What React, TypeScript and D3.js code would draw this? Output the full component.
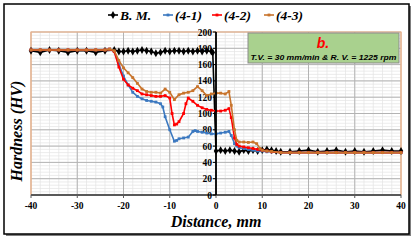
import * as d3 from "d3";

// distance (mm) and hardness (HV) for each traverse
const bmDist = [-40, -38, -36, -34, -32, -30, -28, -26, -24, -22, -21, -20, -19, -18, -17, -16, -15, -14, -13, -12, -11, -10, -9, -8, -7, -6, -5, -4, -3, -2, -1, -0.7, 0, 1, 2, 3, 4, 5, 6, 7, 8, 9, 10, 11, 12, 13, 14, 16, 18, 20, 22, 24, 26, 28, 30, 32, 34, 36, 38, 40];
const bmHv = [177, 175, 178, 177, 175, 177, 177, 175, 177, 178, 176, 176, 177, 176, 177, 178, 177, 176, 174, 175, 177, 176, 177, 177, 176, 177, 176, 177, 176, 177, 176, 175, 54, 55, 54, 55, 54, 53, 55, 54, 55, 54, 55, 56, 55, 54, 53, 53, 54, 55, 53, 54, 55, 53, 54, 53, 54, 55, 54, 54];

const s41Dist = [-40, -38, -36, -34, -32, -30, -28, -26, -24, -23, -22, -21, -20, -19, -18, -17, -16, -15, -14, -13, -12, -11.5, -11, -10, -9, -8.5, -8, -7, -6, -5, -4.5, -4, -3, -2, -1, 0, 1, 2, 2.8, 3.3, 4, 4.5, 5, 6, 7, 8, 9, 10, 11, 12, 14, 16, 18, 20, 22, 24, 26, 28, 30, 32, 34, 36, 38, 40];
const s41Hv = [178, 178, 178, 178, 178, 178, 178, 178, 178, 179, 176, 160, 146, 135, 126, 121, 118, 116, 115, 114, 112, 108, 96, 80, 66, 67, 69, 70, 71, 78, 79, 78, 77, 76, 75, 75, 76, 77, 78, 73, 63, 60, 58, 57, 56, 55, 54, 54, 53, 53, 52, 52, 52, 52, 52, 52, 52, 52, 52, 52, 52, 52, 52, 52];

const s42Dist = [-40, -38, -36, -34, -32, -30, -28, -26, -24, -23, -22, -21, -20, -19, -18, -17, -16, -15, -14, -13, -12, -11, -10, -9.5, -9, -8.5, -8, -7, -6.5, -6, -5, -4, -3, -2, -1, 0, 1, 2, 2.8, 3.3, 4, 4.5, 5, 6, 7, 8, 9, 10, 11, 12, 14, 16, 18, 20, 22, 24, 26, 28, 30, 32, 34, 36, 38, 40];
const s42Hv = [178, 178, 178, 178, 178, 178, 178, 178, 178, 179, 176, 157, 142, 135, 131, 128, 124, 123, 122, 121, 121, 122, 119, 100, 86, 87, 90, 100, 112, 119, 115, 110, 107, 105, 104, 103, 103, 104, 106, 95, 70, 62, 60, 59, 58, 57, 56, 55, 54, 53, 52, 52, 52, 52, 52, 52, 52, 52, 52, 52, 52, 52, 52, 52];

const s43Dist = [-40, -38, -36, -34, -32, -30, -28, -26, -24, -23, -22, -21, -20, -19, -18, -17, -16, -15, -14, -13, -12, -11, -10, -9, -8, -7, -6, -5, -4, -3, -2, -1, 0, 1, 2, 2.8, 3.3, 4, 4.5, 5, 6, 7, 8, 8.8, 9.5, 10, 11, 12, 14, 16, 18, 20, 22, 24, 26, 28, 30, 32, 34, 36, 38, 40];
const s43Hv = [178, 178, 178, 178, 178, 178, 178, 178, 178, 179, 177, 165, 156, 150, 144, 137, 130, 127, 126, 126, 125, 130, 126, 117, 123, 125, 126, 128, 133, 128, 122, 124, 125, 125, 124, 127, 110, 80, 67, 65, 65, 64.5, 65, 63, 57, 55, 54, 53.5, 52, 52, 52, 52, 52, 52, 52, 52, 52, 52, 52, 52, 52, 52];

const seriesNames = ["B. M.", "(4-1)", "(4-2)", "(4-3)"];
const seriesColors = ["#000000", "#3b78c0", "#ff0000", "#c8742c"];

const xTickLabels = [-40, -30, -20, -10, 0, 10, 20, 30, 40];
const yTickLabels = [0, 20, 40, 60, 80, 100, 120, 140, 160, 180, 200];

const series = [
  { name: seriesNames[0], dist: bmDist, hv: bmHv, color: seriesColors[0], diamond: true },
  { name: seriesNames[1], dist: s41Dist, hv: s41Hv, color: seriesColors[1], diamond: false },
  { name: seriesNames[2], dist: s42Dist, hv: s42Hv, color: seriesColors[2], diamond: false },
  { name: seriesNames[3], dist: s43Dist, hv: s43Hv, color: seriesColors[3], diamond: false },
];

const serif = "'Liberation Serif', 'Times New Roman', serif";
const sans = "'Liberation Sans', Arial, sans-serif";

export default function App() {
  const width = 415;
  const height = 242;

  const x = d3.scaleLinear().domain([-40, 40]).range([31, 401]);
  const y = d3.scaleLinear().domain([0, 200]).range([195, 32]);

  const line = d3
    .line<[number, number]>()
    .x((d) => x(d[0]))
    .y((d) => y(d[1]));

  const diamond = d3.symbol().type(d3.symbolDiamond).size(18)() || "";

  const minorX = d3.range(-40, 41, 2);
  const minorY = d3.range(0, 201, 4);

  // legend positions (line start)
  const legendX = [108, 163, 212, 264];

  return (
    <div style={{ position: "absolute", left: 0, top: 0 }}>
      <svg width={width} height={height} style={{ display: "block", background: "#fff" }}>
        {/* frame with a little shadow */}
        <rect x={6} y={6} width={405} height={230} fill="#7f7f7f" />
        <rect x={4} y={4} width={405} height={230} fill="#fff" stroke="#000" strokeWidth={1.5} />

        {/* minor grid */}
        {minorX.map((v) => (
          <line key={"mx" + v} x1={x(v)} x2={x(v)} y1={y(0)} y2={y(200)} stroke="#e4e4e4" strokeWidth={0.7} />
        ))}
        {minorY.map((v) => (
          <line key={"my" + v} x1={x(-40)} x2={x(40)} y1={y(v)} y2={y(v)} stroke="#e4e4e4" strokeWidth={0.7} />
        ))}
        {/* major grid */}
        {xTickLabels.map((v) => (
          <line key={"gx" + v} x1={x(v)} x2={x(v)} y1={y(0)} y2={y(200)} stroke="#b3b3b3" strokeWidth={1} />
        ))}
        {yTickLabels.map((v) => (
          <line key={"gy" + v} x1={x(-40)} x2={x(40)} y1={y(v)} y2={y(v)} stroke="#b3b3b3" strokeWidth={1} />
        ))}

        {/* plot area border */}
        <path
          d={`M${x(-40)},${y(0)}V${y(200)}H${x(40)}V${y(0)}`}
          fill="none"
          stroke="#f4b183"
          strokeWidth={1.2}
        />

        {/* annotation box */}
        <rect x={248} y={33} width={151} height={30} fill="#a9d18e" stroke="#8c8c8c" strokeWidth={1} />
        <text x={323} y={48} textAnchor="middle" fill="#ff0000" fontFamily={sans} fontWeight="bold" fontStyle="italic" fontSize={14}>
          b.
        </text>
        <text x={323.5} y={60} textAnchor="middle" fill="#000" fontFamily={sans} fontWeight="bold" fontStyle="italic" fontSize={8} textLength={146} lengthAdjust="spacingAndGlyphs">
          T.V. = 30 mm/min &amp; R. V. = 1225 rpm
        </text>

        {/* x axis */}
        <line x1={x(-40)} x2={x(40)} y1={y(0)} y2={y(0)} stroke="#595959" strokeWidth={2} />
        {xTickLabels.map((v) => (
          <g key={"xt" + v}>
            <line x1={x(v)} x2={x(v)} y1={y(0)} y2={y(0) + 3} stroke="#595959" strokeWidth={1} />
            <text x={x(v)} y={y(0) + 14} textAnchor="middle" fontFamily={serif} fontWeight="bold" fontSize={9.5} fill="#000">
              {v}
            </text>
          </g>
        ))}

        {/* y axis at x = 0 */}
        {yTickLabels.map((v) => (
          <g key={"yt" + v}>
            <line x1={x(0) - 3} x2={x(0)} y1={y(v)} y2={y(v)} stroke="#000" strokeWidth={1} />
            <text x={x(0) - 4} y={y(v) + 3.5} textAnchor="end" fontFamily={serif} fontWeight="bold" fontSize={9.5} fill="#000">
              {v}
            </text>
          </g>
        ))}

        {/* series */}
        {series.map((s) => {
          const pts = s.dist.map((d, i) => [d, s.hv[i]] as [number, number]);
          return (
            <g key={s.name}>
              <path d={line(pts) || ""} fill="none" stroke={s.color} strokeWidth={1.6} />
              {pts.map((p, i) =>
                s.diamond ? (
                  <path key={i} d={diamond} transform={`translate(${x(p[0])},${y(p[1])})`} fill={s.color} />
                ) : (
                  <rect
                    key={i}
                    x={x(p[0]) - 1.4}
                    y={y(p[1]) - 1.4}
                    width={2.8}
                    height={2.8}
                    fill={s.color}
                  />
                )
              )}
            </g>
          );
        })}

        <line x1={x(0)} x2={x(0)} y1={y(0)} y2={y(200)} stroke="#000" strokeWidth={1.8} />

        {/* legend */}
        {series.map((s, i) => (
          <g key={"lg" + s.name}>
            <line x1={legendX[i]} x2={legendX[i] + 10} y1={15} y2={15} stroke={s.color} strokeWidth={1.6} />
            {s.diamond ? (
              <path d={diamond} transform={`translate(${legendX[i] + 5},15)`} fill={s.color} />
            ) : (
              <rect x={legendX[i] + 3.6} y={13.6} width={2.8} height={2.8} fill={s.color} />
            )}
            <text x={legendX[i] + 12} y={19.5} fontFamily={serif} fontWeight="bold" fontStyle="italic" fontSize={13.5} fill="#000">
              {s.name}
            </text>
          </g>
        ))}

        {/* axis titles */}
        <text
          transform={`translate(22,131) rotate(-90)`}
          textAnchor="middle"
          fontFamily={serif}
          fontWeight="bold"
          fontStyle="italic"
          fontSize={16}
          fill="#000"
        >
          Hardness (HV)
        </text>
        <text x={216} y={227} textAnchor="middle" fontFamily={serif} fontWeight="bold" fontStyle="italic" fontSize={16} fill="#000">
          Distance, mm
        </text>
      </svg>
    </div>
  );
}
